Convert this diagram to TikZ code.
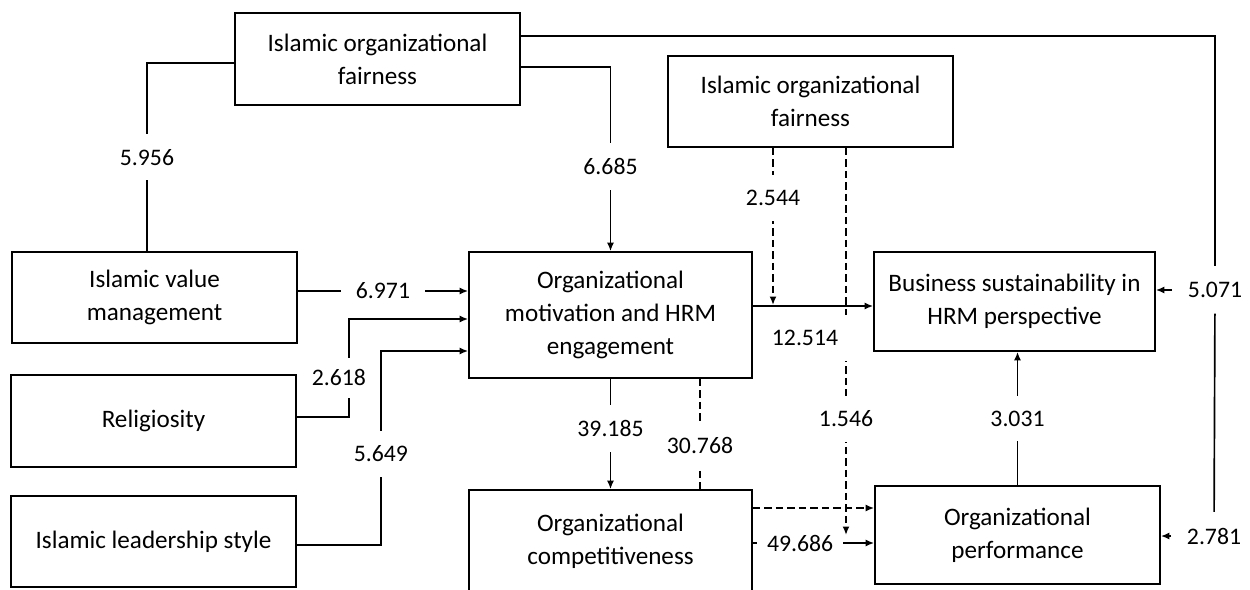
\documentclass[tikz,border=0pt]{standalone}
\usepackage{fontspec}
\setmainfont{Carlito}
\usetikzlibrary{arrows.meta}

\begin{document}
\begin{tikzpicture}[x=0.02cm, y=-0.02cm, line width=0.95pt,
  font=\fontsize{13.5}{18.5}\selectfont,
  box/.style={draw, align=center, inner sep=0pt, font=\fontsize{14.3}{18.8}\selectfont},
  lbl/.style={fill=white, inner xsep=0.3cm, inner ysep=0.3cm},
  arr/.style={-{Latex[length=1.7mm,width=1.4mm]}},
  dsh/.style={dash pattern=on 0.15cm off 0.08cm}]
  \useasboundingbox (0,0) rectangle (1250,589);
  \clip (0,0) rectangle (1250,589);
  % boxes
  \node[box, minimum width=5.7cm, minimum height=1.84cm] (fairA) at (377.5,59) {Islamic organizational\\fairness};
  \node[box, minimum width=5.7cm, minimum height=1.82cm] (valueM) at (154.5,297.5) {Islamic value\\management};
  \node[box, minimum width=5.7cm, minimum height=1.84cm] (relig) at (153.5,421) {Religiosity};
  \node[box, minimum width=5.7cm, minimum height=1.82cm] (lead) at (153.5,541.5) {Islamic leadership style};
  \node[box, minimum width=5.66cm, minimum height=2.52cm] (motiv) at (610.5,315) {Organizational\\motivation and HRM\\engagement};
  \node[box, minimum width=5.66cm, minimum height=2.04cm] (comp) at (610.5,541) {Organizational\\competitiveness};
  \node[box, minimum width=5.7cm, minimum height=1.82cm] (fairB) at (810.5,101.5) {Islamic organizational\\fairness};
  \node[box, minimum width=5.62cm, minimum height=1.98cm] (busi) at (1014.5,301.5) {Business sustainability in\\HRM perspective};
  \node[box, minimum width=5.7cm, minimum height=1.96cm] (perf) at (1017.5,535) {Organizational\\performance};
  % fairness (top) paths
  \draw (fairA.west |- 0,63) -| node[lbl, pos=0.75] {5.956} (valueM.north -| 147,0);
  \draw[arr] (fairA.east |- 0,67) -| node[lbl, pos=0.77] {6.685} (motiv.north);
  \node[lbl] (l5071) at (1215,290) {5.071};
  \node[lbl] (l2781) at (1214,536) {2.781};
  \draw (fairA.east |- 0,36) -| (l5071.north);
  \draw (l5071) -- (l2781);
  \foreach \l/\b in {l5071/busi, l2781/perf}
    \draw[arr] (\l) -- (\l -| \b.east);
  % inputs into motivation
  \draw[arr] (valueM.east |- 0,291) -- node[lbl] {6.971} (motiv.west |- 0,291);
  \draw[arr] (relig.east |- 0,417) -- ++(52,0) |- node[lbl, inner xsep=0.08cm, inner ysep=0.24cm, xshift=-0.2cm, pos=0.2] {2.618} (motiv.west |- 0,319);
  \draw[arr] (lead.east |- 0,545) -- ++(84,0) |- node[lbl, pos=0.235] {5.649} (motiv.west |- 0,351);
  % motivation and competitiveness
  \draw[arr] (motiv.south) -- node[lbl, pos=0.45] {39.185} (comp.north);
  \draw[dsh] (motiv.south -| 700,0) -- node[lbl, pos=0.6] {30.768} (comp.north -| 700,0);
  \draw[arr] (motiv.east |- 0,306) -- (busi.west |- 0,306);
  \draw[dsh, arr] (comp.east |- 0,508) -- (perf.west |- 0,508);
  \draw[arr] (comp.east |- 0,543) -- node[lbl, inner xsep=0.2cm, pos=0.39] {49.686} (perf.west |- 0,543);
  \draw[arr] (perf.north) -- node[lbl] {3.031} (busi.south -| perf.north);
  % moderators (dashed)
  \coordinate (m1) at (773,305);
  \coordinate (m2) at (846,535);
  \draw[dsh, arr] (fairB.south -| m1) -- node[lbl, pos=0.32] {2.544} (m1);
  \draw[dsh, arr] (fairB.south -| m2) -- node[lbl, pos=0.7] {1.546} (m2);
  \node[lbl, inner xsep=0.36cm] (l12514) at (805,338) {12.514};
\end{tikzpicture}
\end{document}
